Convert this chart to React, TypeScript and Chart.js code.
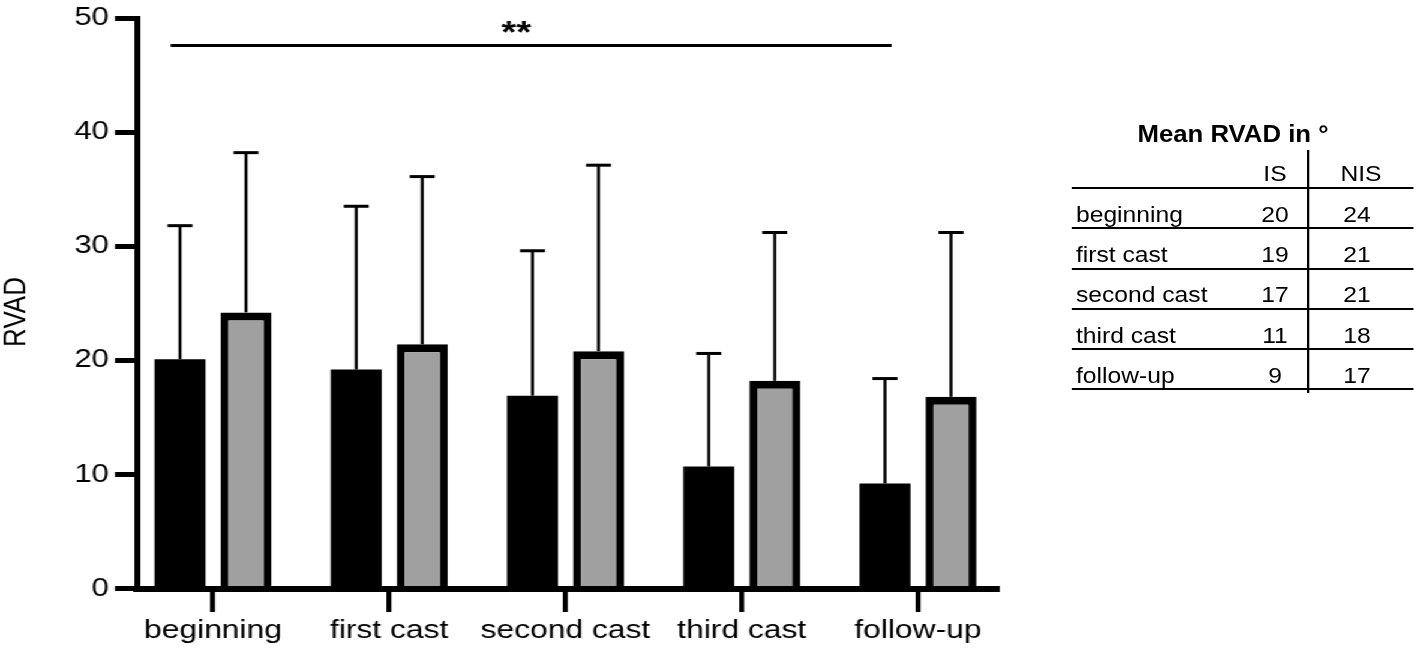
import React, { useEffect, useRef } from 'react';
import { Chart, registerables } from 'chart.js';

Chart.register(...registerables);

const FONT = "'Liberation Sans', Arial, Helvetica, sans-serif";

// ---------------- data ----------------
const categories = ['beginning', 'first cast', 'second cast', 'third cast', 'follow-up'];
const isMeans = [20.1, 19.2, 16.9, 10.7, 9.2];
const isSD = [11.7, 14.3, 12.7, 9.9, 9.2];
const nisMeans = [24.2, 21.4, 20.8, 18.2, 16.8];
const nisSD = [14.0, 14.7, 16.3, 13.0, 14.4];
const yTickValues = [0, 10, 20, 30, 40, 50];
const axisTitle = 'RVAD';
const sigFrom = -0.24;
const sigTo = 3.85;
const sigLevel = 47.6;
const sigLabelX = 1.72;
const sigLabel = '**';
const tableTitle = 'Mean RVAD in °';
const tableColumns = ['IS', 'NIS'];
const tableIS = [20, 19, 17, 11, 9];
const tableNIS = [24, 21, 21, 18, 17];

// ---------------- layout ----------------
const SX = 1.2; // horizontal stretch of the chart drawing
const TX = 1.12; // horizontal stretch of the table
const CHART_W = 860; // inner (unstretched) canvas width
const H = 654;
const px = (X: number) => X / SX;
const tx = (X: number) => X / TX;

const errorBarPlugin = {
  id: 'errorBars',
  afterDatasetsDraw(chart: any) {
    const { ctx } = chart;
    const yScale = chart.scales.y;
    ctx.save();
    ctx.strokeStyle = '#000';
    chart.data.datasets.forEach((ds: any, di: number) => {
      const meta = chart.getDatasetMeta(di);
      meta.data.forEach((bar: any, i: number) => {
        const v = ds.data[i].y + ds.errors[i];
        const yErr = yScale.getPixelForValue(v);
        const x = bar.x;
        ctx.lineWidth = 2.5;
        ctx.beginPath();
        ctx.moveTo(x, bar.y);
        ctx.lineTo(x, yErr);
        ctx.stroke();
        ctx.lineWidth = 3;
        ctx.beginPath();
        ctx.moveTo(x - px(12.5), yErr);
        ctx.lineTo(x + px(12.5), yErr);
        ctx.stroke();
      });
    });
    ctx.restore();
  },
};

const annotationPlugin = {
  id: 'annotations',
  afterDraw(chart: any) {
    const { ctx } = chart;
    const xs = chart.scales.x;
    const ys = chart.scales.y;
    ctx.save();
    // significance bar
    const y = ys.getPixelForValue(sigLevel);
    ctx.strokeStyle = '#000';
    ctx.lineWidth = 3;
    ctx.beginPath();
    ctx.moveTo(xs.getPixelForValue(sigFrom), y);
    ctx.lineTo(xs.getPixelForValue(sigTo), y);
    ctx.stroke();
    ctx.fillStyle = '#000';
    ctx.font = `bold 32px ${FONT}`;
    ctx.textAlign = 'center';
    ctx.textBaseline = 'alphabetic';
    ctx.fillText(sigLabel, xs.getPixelForValue(sigLabelX), y - 2);
    // y axis title
    ctx.translate(px(16.5), 312);
    ctx.rotate(-Math.PI / 2);
    ctx.font = `26px ${FONT}`;
    ctx.textBaseline = 'middle';
    ctx.fillText(axisTitle, 0, 0);
    ctx.restore();
  },
};

export default function App() {
  const canvasRef = useRef<HTMLCanvasElement>(null);

  useEffect(() => {
    const chart = new Chart(canvasRef.current as HTMLCanvasElement, {
      type: 'bar',
      data: {
        datasets: [
          {
            label: 'IS',
            data: isMeans.map((y, i) => ({ x: i, y })),
            errors: isSD,
            backgroundColor: '#000',
            borderWidth: 0,
            categoryPercentage: 0.749,
            barPercentage: 0.773,
          } as any,
          {
            label: 'NIS',
            data: nisMeans.map((y, i) => ({ x: i, y })),
            errors: nisSD,
            backgroundColor: '#a0a0a0',
            borderColor: '#000',
            borderWidth: { top: 8, left: px(8), right: px(8), bottom: 0 },
            categoryPercentage: 0.749,
            barPercentage: 0.773,
          } as any,
        ],
      },
      options: {
        responsive: true,
        maintainAspectRatio: false,
        animation: false,
        devicePixelRatio: 1,
        layout: { padding: { top: 15, right: CHART_W - px(997), left: 0, bottom: 0 } },
        plugins: {
          legend: { display: false },
          tooltip: { enabled: false },
        },
        scales: {
          x: {
            type: 'linear',
            min: (px(137) - px(213)) / px(176.25),
            max: (px(997) - px(213)) / px(176.25),
            offset: false,
            z: 1,
            afterBuildTicks: (s: any) => {
              s.ticks = categories.map((_, i) => ({ value: i }));
            },
            afterFit: (s: any) => {
              s.height = H - 588.5;
            },
            grid: {
              offset: false,
              drawOnChartArea: false,
              drawTicks: true,
              tickLength: 23.5,
              lineWidth: px(5),
              color: '#000',
            },
            border: { display: true, width: 6, color: '#000' },
            ticks: {
              color: '#000',
              font: { family: FONT, size: 26.5, lineHeight: 1.2 },
              padding: 3,
              maxRotation: 0,
              autoSkip: false,
              callback: (v: any) => categories[v] ?? '',
            },
          },
          y: {
            min: 0,
            max: 50,
            afterBuildTicks: (s: any) => {
              s.ticks = yTickValues.map((v) => ({ value: v }));
            },
            afterFit: (s: any) => {
              s.width = px(137);
            },
            grid: {
              drawOnChartArea: false,
              drawTicks: true,
              tickLength: px(22),
              lineWidth: 5,
              color: '#000',
            },
            border: { display: true, width: px(6), color: '#000' },
            ticks: {
              color: '#000',
              font: { family: FONT, size: 26, lineHeight: 1 },
              padding: px(6),
            },
          },
        },
      } as any,
      plugins: [errorBarPlugin, annotationPlugin],
    } as any);
    return () => chart.destroy();
  }, []);

  const lineYs = [188, 228, 269, 309, 349, 389];
  const rowCenter = (i: number) => 215 + 40.2 * i;
  const cell = (text: any, cx: number, cy: number, key: string) => (
    <div
      key={key}
      style={{
        position: 'absolute',
        left: tx(cx) - 40,
        width: 80,
        top: cy - 13,
        height: 26,
        lineHeight: '26px',
        textAlign: 'center',
        fontSize: 22,
        whiteSpace: 'nowrap',
      }}
    >
      {text}
    </div>
  );

  return (
    <>
      <div
        style={{
          position: 'absolute',
          left: 0,
          top: 0,
          width: CHART_W,
          height: H,
          transform: `scaleX(${SX})`,
          transformOrigin: '0 0',
          background: '#fff',
        }}
      >
        <canvas ref={canvasRef} />
      </div>
      <div
        style={{
          position: 'absolute',
          left: 0,
          top: 0,
          width: 1418 / TX,
          height: H,
          transform: `scaleX(${TX})`,
          transformOrigin: '0 0',
          fontFamily: FONT,
          color: '#000',
          pointerEvents: 'none',
          overflow: 'hidden',
        }}
      >
        <div
          style={{
            position: 'absolute',
            left: tx(1233) - 150,
            width: 300,
            top: 120.5,
            height: 26,
            lineHeight: '26px',
            fontSize: 23,
            fontWeight: 'bold',
            textAlign: 'center',
            whiteSpace: 'nowrap',
          }}
        >
          {tableTitle}
        </div>
        <div
          style={{
            position: 'absolute',
            left: tx(1307),
            width: 2 / TX,
            top: 150,
            height: 243,
            background: '#000',
          }}
        />
        {lineYs.map((y, i) => (
          <div
            key={'l' + i}
            style={{
              position: 'absolute',
              left: tx(1072),
              width: tx(341),
              top: y - 1,
              height: 2,
              background: '#000',
            }}
          />
        ))}
        {cell(tableColumns[0], 1275, 173.5, 'h0')}
        {cell(tableColumns[1], 1361, 173.5, 'h1')}
        {categories.map((c, i) => (
          <div
            key={'r' + i}
            style={{
              position: 'absolute',
              left: tx(1076),
              top: rowCenter(i) - 13,
              height: 26,
              lineHeight: '26px',
              fontSize: 22,
              whiteSpace: 'nowrap',
            }}
          >
            {c}
          </div>
        ))}
        {tableIS.map((v, i) => cell(v, 1275, rowCenter(i), 'a' + i))}
        {tableNIS.map((v, i) => cell(v, 1357, rowCenter(i), 'b' + i))}
      </div>
    </>
  );
}
